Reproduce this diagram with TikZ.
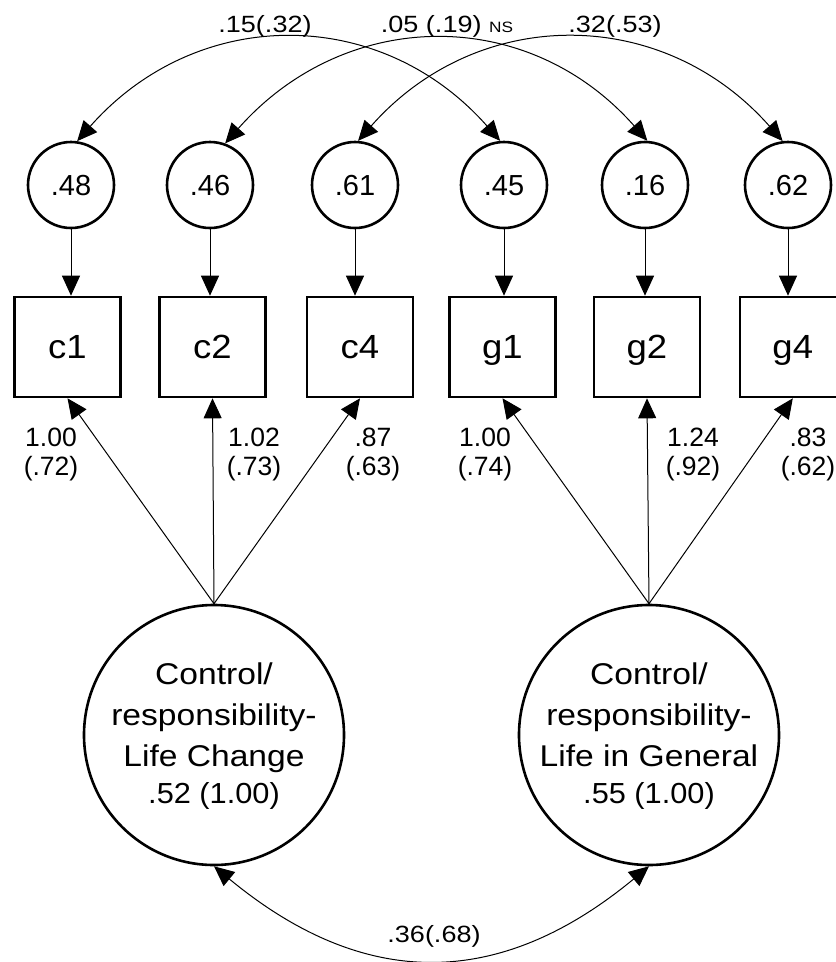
\documentclass[tikz,border=0pt]{standalone}
\usepackage{fontspec}
\usepackage{graphicx}
\setmainfont{Liberation Sans}
\usetikzlibrary{arrows.meta}
% horizontally widened text
\newcommand\hwide[2]{\scalebox{#1}[1]{#2}}

\begin{document}
\begin{tikzpicture}[x=1pt,y=-1pt,
  >={Triangle[length=20pt,width=18pt]},
  every node/.style={inner sep=0pt},
  errvar/.style={circle,draw,line width=2.6pt,minimum size=86pt,
    font=\fontsize{29}{34}\selectfont,text height=21pt,text depth=1pt},
  indicator/.style={rectangle,draw,line width=2.6pt,minimum width=106pt,
    minimum height=100pt,font=\fontsize{33.5}{40}\selectfont,text height=25pt,text depth=3pt},
  latent/.style={circle,draw,line width=2.6pt,minimum size=260pt},
  latenttext/.style={align=center,anchor=center,
    font=\fontsize{30}{41}\selectfont},
  loadlabel/.style={align=center,anchor=center,
    font=\fontsize{26.5}{29}\selectfont},
  covlabel/.style={anchor=base,font=\fontsize{23.5}{28}\selectfont},
  regpath/.style={line width=1pt,->},
  covpath/.style={line width=1pt,<->},
]
\useasboundingbox (0,0) rectangle (836,962);

% error terms
\node[errvar] (e1) at (71,185)  {.48};
\node[errvar] (e2) at (210,185) {.46};
\node[errvar] (e3) at (355,185) {.61};
\node[errvar] (e4) at (504,185) {.45};
\node[errvar] (e5) at (645,185) {.16};
\node[errvar] (e6) at (788,185) {.62};

% observed indicators
\node[indicator] (c1) at (67.5,347)  {\hwide{1.09}{c1}};
\node[indicator] (c2) at (212.5,347) {\hwide{1.09}{c2}};
\node[indicator] (c4) at (360,347)   {\hwide{1.09}{c4}};
\node[indicator] (g1) at (502.5,347) {\hwide{1.09}{g1}};
\node[indicator] (g2) at (647,347)   {\hwide{1.09}{g2}};
\node[indicator] (g4) at (792.8,347) {\hwide{1.09}{g4}};

% latent factors
\node[latent] (LC) at (214,735) {};
\node[latent] (LG) at (649,735) {};
\node[latenttext] (LCt) at (214,736.5)
  {\hwide{1.12}{Control/}\\\hwide{1.12}{responsibility-}\\\hwide{1.12}{Life Change}\\[-4pt]%
   \fontsize{29}{34}\selectfont\hwide{1.06}{.52 (1.00)}};
\node[latenttext] (LGt) at (649,736.5)
  {\hwide{1.12}{Control/}\\\hwide{1.12}{responsibility-}\\\hwide{1.12}{Life in General}\\[-4pt]%
   \fontsize{29}{34}\selectfont\hwide{1.06}{.55 (1.00)}};

% error paths
\foreach \e/\b in {e1/c1,e2/c2,e3/c4,e4/g1,e5/g2,e6/g4}
  \draw[regpath] (\e.south) -- (\e.south |- \b.north);

% factor loadings
\foreach \b in {c1,c2,c4}
  \draw[regpath] (LC.north) -- (\b.south);
\foreach \b in {g1,g2,g4}
  \draw[regpath] (LG.north) -- (\b.south);

\node[loadlabel] (l1) at (51,454)  {1.00\\(.72)};
\node[loadlabel] (l2) at (254,454) {1.02\\(.73)};
\node[loadlabel] (l3) at (373,454) {.87\\(.63)};
\node[loadlabel] (l4) at (485,454) {1.00\\(.74)};
\node[loadlabel] (l5) at (693,454) {1.24\\(.92)};
\node[loadlabel] (l6) at (808,454) {.83\\(.62)};

% error covariances
\draw[covpath] (e1.82) .. controls +(120,-136) and +(-120,-136) .. (e4.95);
\draw[covpath] (e2.70) .. controls +(120,-136) and +(-120,-136) .. (e5.87);
\draw[covpath] (e3.86) .. controls +(120,-136) and +(-120,-136) .. (e6.97);
\node[covlabel] (k1) at (265,32) {\hwide{1.15}{.15(.32)}};
\node[covlabel] (k2) at (447,32) {\hwide{1.15}{.05 (.19) {\fontsize{15}{18}\selectfont NS}}};
\node[covlabel] (k3) at (615,32) {\hwide{1.15}{.32(.53)}};

% factor covariance
\draw[covpath] (LC.south) .. controls +(150,124) and +(-150,124) .. (LG.south);
\node[covlabel] (k4) at (434,942) {\hwide{1.15}{.36(.68)}};
\end{tikzpicture}
\end{document}
